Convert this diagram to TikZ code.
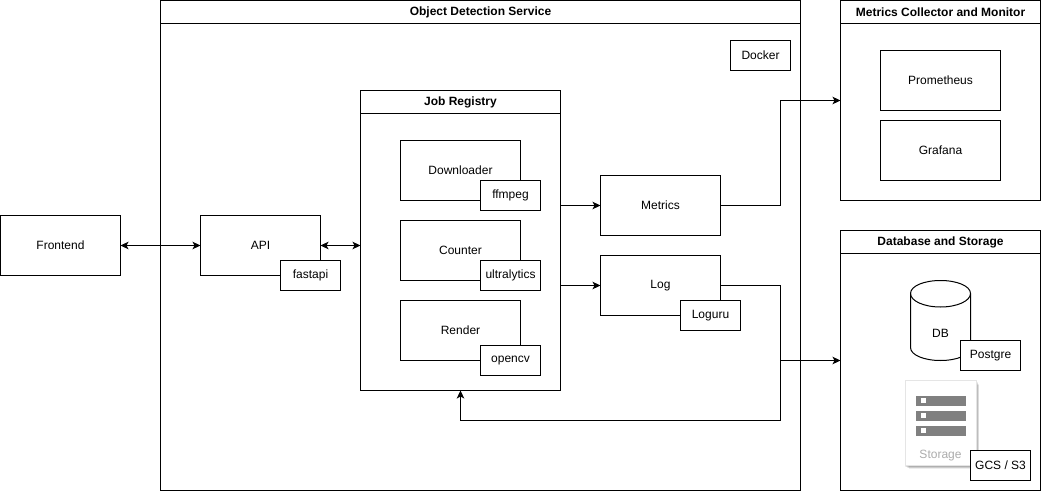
\documentclass[tikz,border=0pt]{standalone}
\usepackage{fontspec}
\setmainfont{Liberation Sans}
\usetikzlibrary{arrows.meta,calc}
\definecolor{ink}{HTML}{000000}
\definecolor{stgray}{HTML}{808080}
\definecolor{stlabel}{HTML}{ACACAC}
\tikzset{
  x=1pt,y=-1pt,
  line/.style={draw=ink,line width=1pt},
  box/.style={line,fill=white,anchor=north west,inner sep=0pt,outer sep=0pt,font=\fontsize{12}{14}\selectfont,text=ink},
  b120/.style={box,minimum width=120pt,minimum height=60pt},
  tag/.style={box,minimum width=60pt,minimum height=30pt},
  frame/.style={line,fill=white},
  head/.style={font=\fontsize{12}{14}\selectfont\bfseries,text=ink,inner sep=0pt},
  txt/.style={font=\fontsize{12}{14}\selectfont,text=ink,inner sep=0pt},
  tip/.style={Stealth[length=8pt,width=7.5pt,inset=2pt]},
  conn/.style={line,-{Stealth[length=8pt,width=7.5pt,inset=2pt]}},
  bi/.style={line,{Stealth[length=8pt,width=7.5pt,inset=2pt]}-{Stealth[length=8pt,width=7.5pt,inset=2pt]}},
  plain/.style={line},
  bar/.style={fill=stgray,draw=none,anchor=north west,inner sep=0pt,outer sep=0pt,minimum width=50pt,minimum height=10pt},
  slot/.style={fill=white,draw=none,inner sep=0pt,minimum width=5pt,minimum height=5pt}
}
\begin{document}
\begin{tikzpicture}
\useasboundingbox (0,0) rectangle (1041,492);
\fill[white] (0,0) rectangle (1041,492);

% Object Detection Service
\node[box,minimum width=640pt,minimum height=490pt] (svc) at (160.5,0.5) {};
\draw[line] (160.5,23.5) -- (800.5,23.5);
\node[head] (svct) at (480.5,12) {Object Detection Service};
\node[tag] (docker) at (730.5,40.5) {Docker};

% Frontend, API
\node[b120] (front) at (0.5,215.5) {Frontend};
\node[b120] (api) at (200.5,215.5) {API};
\node[tag] (fast) at (280.5,260.5) {fastapi};

% Job Registry
\node[box,minimum width=200pt,minimum height=300pt] (reg) at (360.5,90.5) {};
\draw[line] (360.5,113.5) -- (560.5,113.5);
\node[head] (regt) at (460.5,102) {Job Registry};
\node[b120] (down) at (400.5,140.5) {};
\node[txt] (downt) at (460.5,170.5) {Downloader};
\node[tag] (ff) at (480.5,180.5) {ffmpeg};
\node[b120] (count) at (400.5,220.5) {};
\node[txt] (countt) at (460.5,250.5) {Counter};
\node[tag] (ultra) at (480.5,260.5) {ultralytics};
\node[b120] (render) at (400.5,300.5) {};
\node[txt] (rendert) at (460.5,330.5) {Render};
\node[tag] (cv) at (480.5,345.5) {opencv};

% Metrics, Log
\node[b120] (met) at (600.5,175.5) {Metrics};
\node[b120] (log) at (600.5,255.5) {Log};
\node[tag] (loguru) at (680.5,300.5) {Loguru};

% Metrics Collector
\node[box,minimum width=200pt,minimum height=200pt] (mon) at (840.5,0.5) {};
\draw[line] (840.5,23.5) -- (1040.5,23.5);
\node[head] (mont) at (940.5,12) {Metrics Collector and Monitor};
\node[b120] (prom) at (880.5,50.5) {Prometheus};
\node[b120] (graf) at (880.5,120.5) {Grafana};

% Database and Storage
\node[box,minimum width=200pt,minimum height=260pt] (dbs) at (840.5,230.5) {};
\draw[line] (840.5,253.5) -- (1040.5,253.5);
\node[head] (dbst) at (940.5,242) {Database and Storage};

% DB cylinder
\path[frame] (910.5,293.5) .. controls (910.5,286) and (924,280.5) .. (940.5,280.5)
  .. controls (957,280.5) and (970.5,286) .. (970.5,293.5)
  -- (970.5,347.5) .. controls (970.5,355) and (957,360.5) .. (940.5,360.5)
  .. controls (924,360.5) and (910.5,355) .. (910.5,347.5) -- cycle;
\draw[line] (910.5,293.5) .. controls (910.5,301) and (924,307) .. (940.5,307)
  .. controls (957,307) and (970.5,301) .. (970.5,293.5);
\node[txt] (db) at (940.5,333) {DB};
\node[tag] (pg) at (960.5,340.5) {Postgre};

% Storage tile
\foreach \s in {0,1,2,3,4}{
  \fill[black,opacity=0.07] ({905+\s},{381+\s}) rectangle ({977+\s*0.5},{466.5+\s*0.6});
}
\node[anchor=north west,inner sep=0pt,outer sep=0pt,minimum width=71pt,minimum height=85pt,fill=white,draw=black!10,line width=0.6pt] (st) at (905,380) {};
\node[bar] (b1) at (915.5,395.5) {};
\node[bar] (b2) at (915.5,410.5) {};
\node[bar] (b3) at (915.5,425.5) {};
\node[slot] at (923,400.5) {};
\node[slot] at (923,415.5) {};
\node[slot] at (923,430.5) {};
\node[txt,text=stlabel] (stt) at (940.5,455.5) {Storage};
\node[tag] (gcs) at (970.5,450.5) {GCS / S3};

% Connectors
\draw[bi] (front.east) -- (api.west);
\draw[bi] (api.east) -- (api.east -| reg.west);
\draw[conn] (met.west -| reg.east) -- (met.west);
\draw[conn] (log.west -| reg.east) -- (log.west);
\coordinate (busM) at (780.5,205.5);
\coordinate (busL) at (780.5,285.5);
\coordinate (busB) at (780.5,420.5);
\draw[conn] (met.east) -- (busM) |- (mon.west);
\draw[conn] (log.east) -- (busL) |- (dbs.west);
\draw[plain] (busL) -- (busB);
\draw[conn] (busB) -| (reg.south);
\end{tikzpicture}
\end{document}
